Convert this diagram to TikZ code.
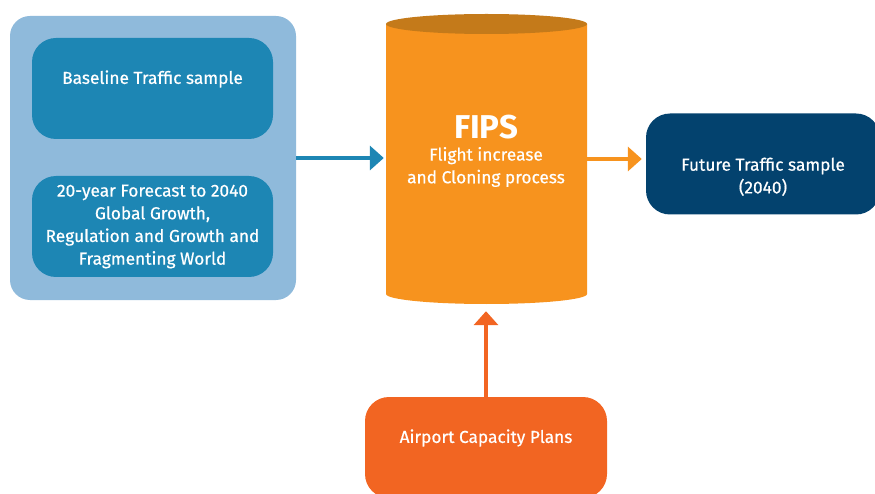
\documentclass[tikz,border=0pt]{standalone}
\usepackage{fontspec}
\setmainfont{Fira Sans}
\newfontfamily\medfont{Fira Sans}[FakeBold=0.6]
\usetikzlibrary{arrows.meta,positioning}
\definecolor{paleblue}{HTML}{8FBADB}
\definecolor{midblue}{HTML}{1D86B4}
\definecolor{navy}{HTML}{03426E}
\definecolor{fipsorange}{HTML}{F7931E}
\definecolor{fipstop}{HTML}{C47A1A}
\definecolor{airportred}{HTML}{F26522}

\begin{document}
\begin{tikzpicture}[x=1pt,y=-1pt,
  box/.style={rounded corners=24pt,inner sep=0pt,text=white,align=center,
    minimum width=241pt,minimum height=101pt,font=\medfont\fontsize{17.3}{22.7}\selectfont},
  link/.style={line width=4pt,-{Triangle[length=14pt,width=24pt]}}]
  \useasboundingbox (0,0) rectangle (875,494);
  \clip (0,0) rectangle (875,494);
  % input group on the left
  \draw (153,158) node[fill=paleblue,rounded corners=20pt,minimum width=286pt,minimum height=284pt] (group) {};
  \draw (152.5,88.5) node[box,fill=midblue] (baseline) {Baseline Traffic sample\\~};
  \draw (152.5,226.5) node[box,fill=midblue] (forecast) {20-year Forecast to 2040\\Global Growth,\\Regulation and Growth and\\Fragmenting World};
  % FIPS cylinder
  \fill[fipsorange] (386,24) -- (386,294) arc[start angle=180,end angle=0,x radius=100.5,y radius=10] -- (587,24) -- cycle;
  \fill[fipstop] (486.5,24) ellipse[x radius=100.5,y radius=10];
  \draw (486.5,159) node[minimum width=201pt,minimum height=290pt,inner sep=0pt] (fips) {};
  \node[text=white,font=\fontsize{33}{36}\selectfont\bfseries] (fipstitle) at (486,127) {FIPS};
  \node[text=white,align=center,font=\medfont\fontsize{17.3}{22.7}\selectfont,below=1pt of fipstitle] (fipstext) {Flight increase\\and Cloning process};
  % outputs and capacity input
  \draw (763,164) node[box,fill=navy,minimum width=234pt] (future) {\strut\\Future Traffic sample\\(2040)};
  \draw (486,447.5) node[box,fill=airportred,minimum width=242pt] (airport) {Airport Capacity Plans\\~};
  \draw[link,midblue,shorten >=2pt] (group.east) -- (group.east -| fips.west);
  \draw[link,fipsorange,shorten >=4pt] (fips.east) -- (fips.east -| future.west);
  \draw[link,airportred,shorten >=7pt] (airport.north) -- (airport.north |- fips.south);
\end{tikzpicture}
\end{document}
